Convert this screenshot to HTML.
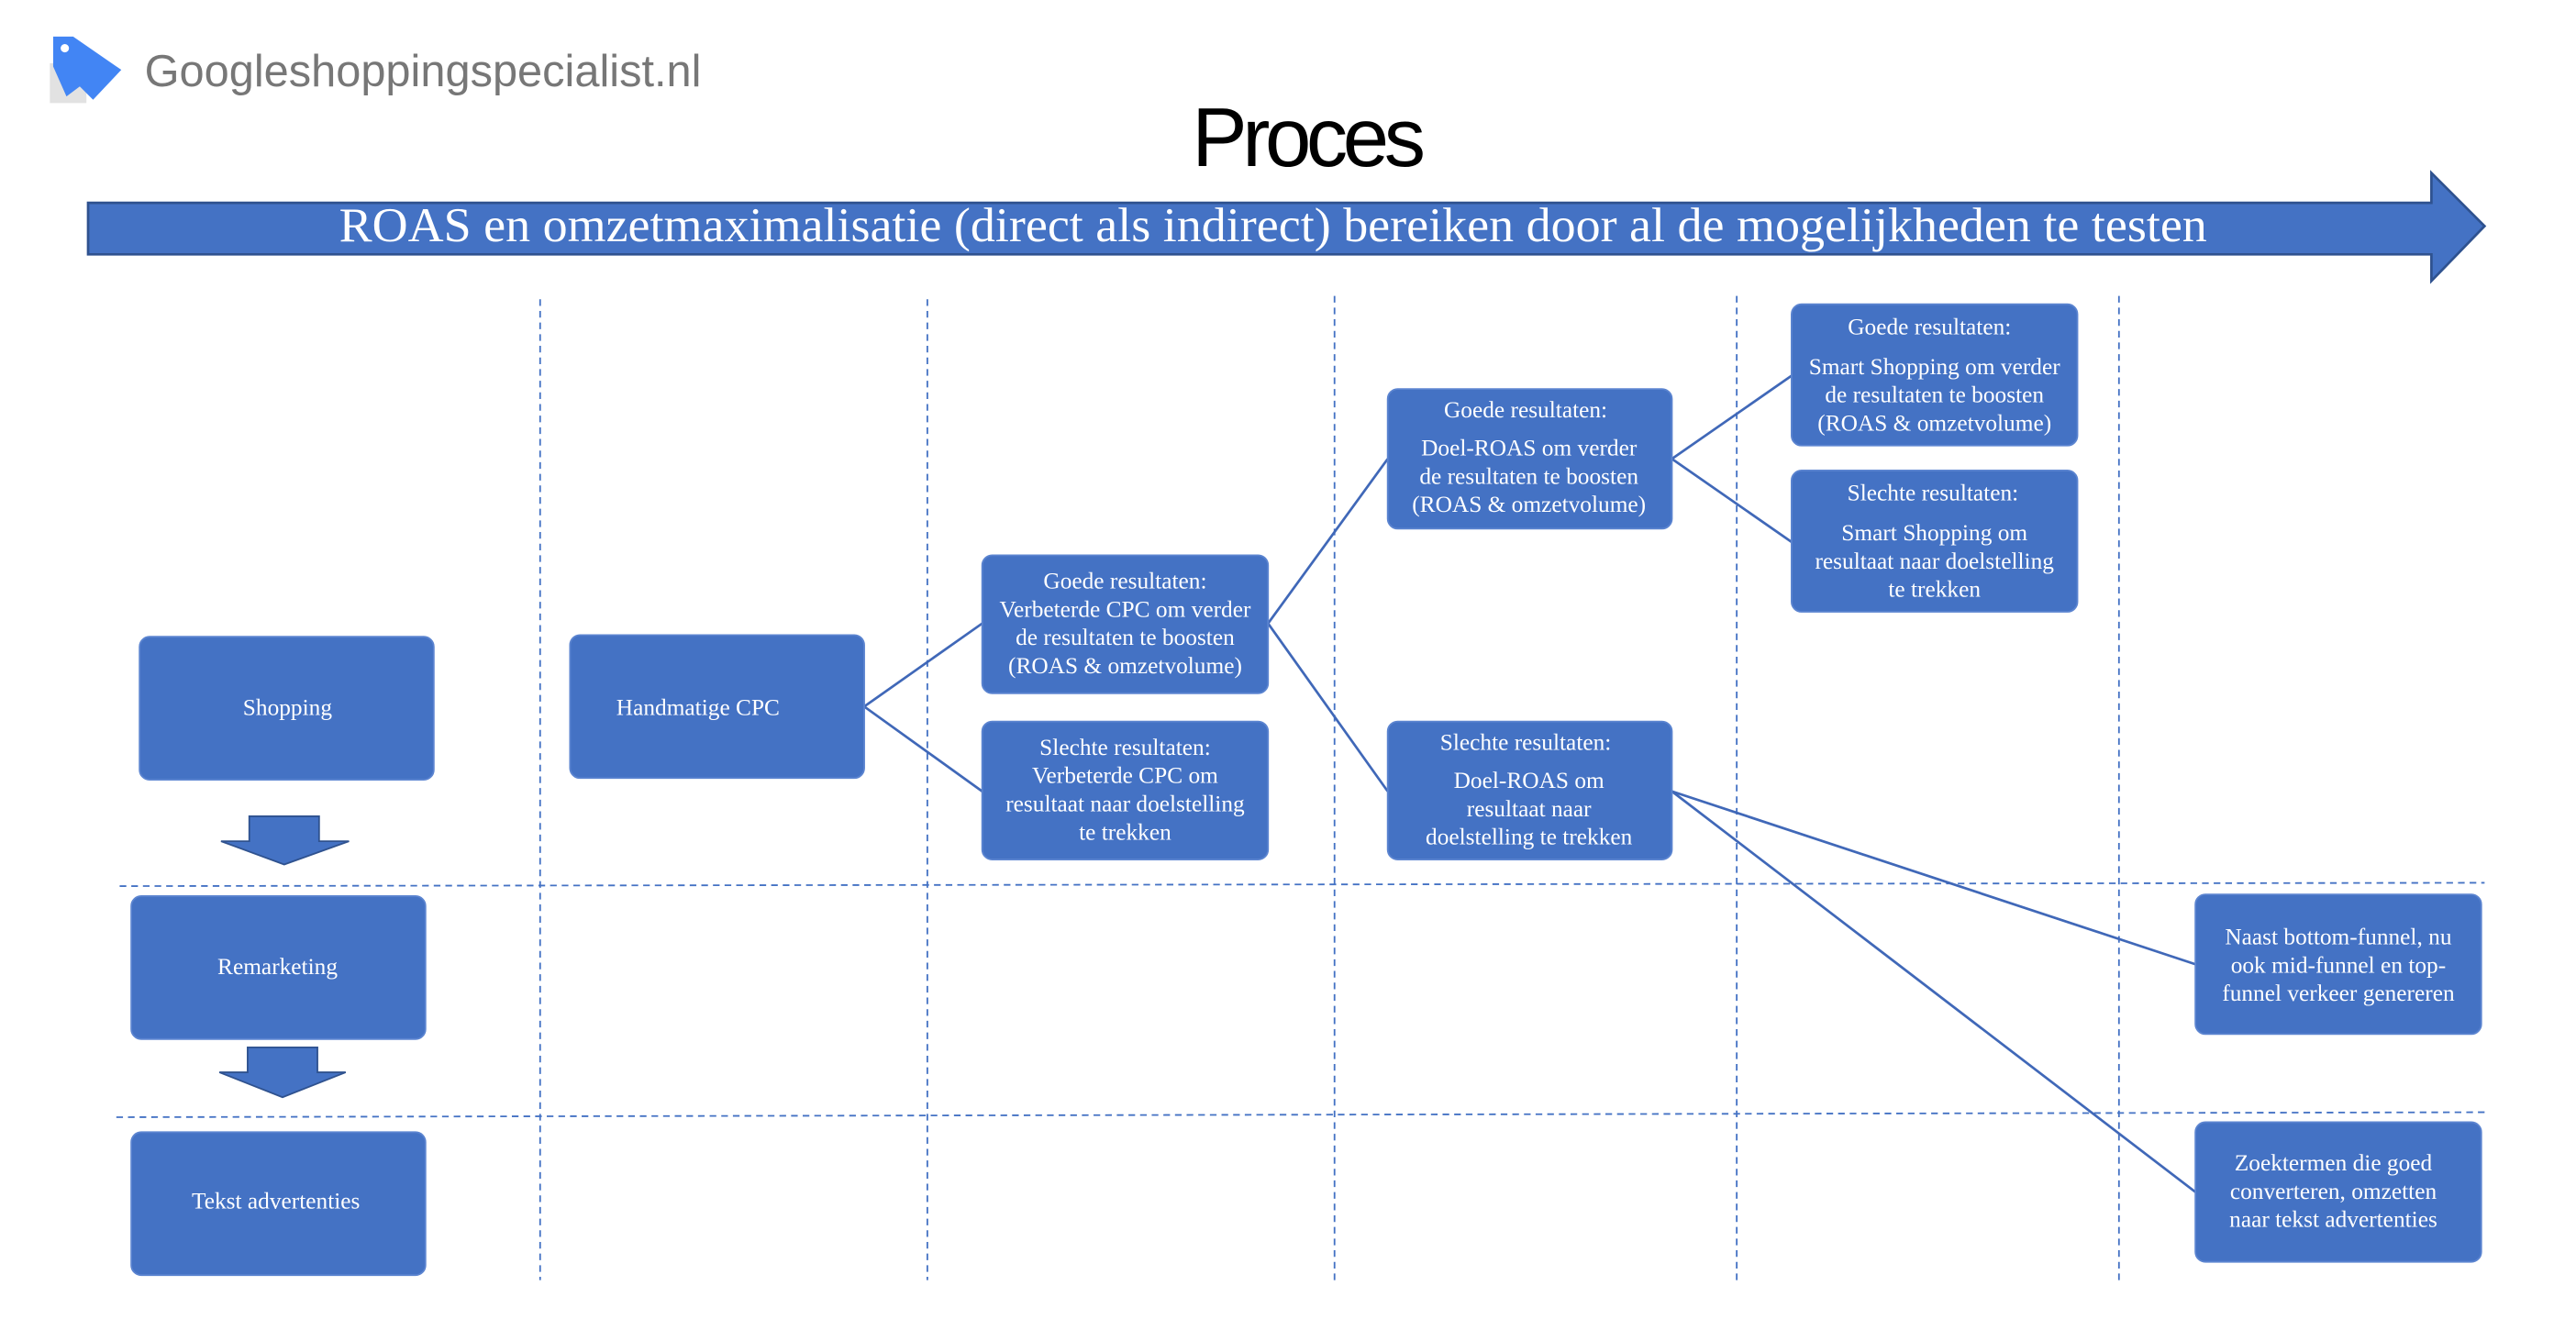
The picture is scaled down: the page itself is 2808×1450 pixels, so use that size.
<!DOCTYPE html>
<html><head><meta charset="utf-8"><style>
html,body{margin:0;padding:0;background:#fff;}
svg{display:block;}
text{font-family:"Liberation Serif",serif;fill:#fff;}
</style></head><body>
<svg width="2808" height="1450" viewBox="0 0 1550 800" preserveAspectRatio="none" xmlns="http://www.w3.org/2000/svg">
<rect width="1550" height="800" fill="#fff"/>
<!-- logo -->
<rect x="30" y="38" width="22" height="24" fill="#e2e2e2"/>
<path d="M32 22 L44 22 L73 42 L56 60 L48 52 L40 58 L32 40 Z" fill="#4285f4"/>
<circle cx="39" cy="29" r="2.5" fill="#fff"/>
<text x="87" y="52" font-size="27" textLength="335" lengthAdjust="spacingAndGlyphs" style="font-family:'Liberation Sans',sans-serif;fill:#777">Googleshoppingspecialist.nl</text>
<text x="786" y="100" font-size="50" text-anchor="middle" letter-spacing="-3" style="font-family:'Liberation Sans',sans-serif;fill:#000">Proces</text>
<!-- big arrow -->
<path d="M53 122 L1463 122 L1463 104 L1495 136 L1463 169 L1463 153 L53 153 Z" fill="#4472c4" stroke="#2f528f" stroke-width="1.5"/>
<text x="204" y="145" font-size="29" textLength="1124" lengthAdjust="spacingAndGlyphs">ROAS en omzetmaximalisatie (direct als indirect) bereiken door al de mogelijkheden te testen</text>
<!-- dashed grid -->
<g stroke="#4472c4" stroke-width="1" stroke-dasharray="4,3">
<line x1="325" y1="180" x2="325" y2="770"/>
<line x1="558" y1="180" x2="558" y2="770"/>
<line x1="803" y1="178" x2="803" y2="770"/>
<line x1="1045" y1="178" x2="1045" y2="770"/>
<line x1="1275" y1="178" x2="1275" y2="770"/>
<line x1="72" y1="533" x2="1495" y2="531"/>
<line x1="70" y1="672" x2="1495" y2="669"/>
</g>
<!-- connectors -->
<g stroke="#4068b8" stroke-width="1.5" fill="none">
<polyline points="591,375 520,425 591,476"/>
<polyline points="835,276 763,375 835,476"/>
<polyline points="1078,226 1006,276 1078,326"/>
<line x1="1006" y1="476" x2="1321" y2="580"/>
<line x1="1006" y1="476" x2="1321" y2="717"/>
</g>
<!-- down arrows -->
<path d="M150 491 L192 491 L192 506 L210 506 L171 520 L133 506 L150 506 Z" fill="#4472c4" stroke="#2f528f"/>
<path d="M149 630 L191 630 L191 645 L208 645 L170 660 L132 645 L149 645 Z" fill="#4472c4" stroke="#2f528f"/>
<!-- boxes -->
<g fill="#4472c4" stroke="#5b84d0" stroke-width="1">
<rect x="84" y="383" width="177" height="86" rx="6"/>
<rect x="343" y="382" width="177" height="86" rx="6"/>
<rect x="591" y="334" width="172" height="83" rx="6"/>
<rect x="591" y="434" width="172" height="83" rx="6"/>
<rect x="835" y="234" width="171" height="84" rx="6"/>
<rect x="835" y="434" width="171" height="83" rx="6"/>
<rect x="1078" y="183" width="172" height="85" rx="6"/>
<rect x="1078" y="283" width="172" height="85" rx="6"/>
<rect x="1321" y="538" width="172" height="84" rx="6"/>
<rect x="1321" y="675" width="172" height="84" rx="6"/>
<rect x="79" y="539" width="177" height="86" rx="6"/>
<rect x="79" y="681" width="177" height="86" rx="6"/>
</g>
<g font-size="14" text-anchor="middle">
<text x="173" y="430">Shopping</text>
<text x="420" y="430">Handmatige CPC</text>
<text x="167" y="586">Remarketing</text>
<text x="166" y="727">Tekst advertenties</text>
<text x="677" y="354">Goede resultaten:</text>
<text x="677" y="371">Verbeterde CPC om verder</text>
<text x="677" y="388">de resultaten te boosten</text>
<text x="677" y="405">(ROAS &amp; omzetvolume)</text>
<text x="677" y="454">Slechte resultaten:</text>
<text x="677" y="471">Verbeterde CPC om</text>
<text x="677" y="488">resultaat naar doelstelling</text>
<text x="677" y="505">te trekken</text>
<text x="918" y="251">Goede resultaten:</text>
<text x="920" y="274">Doel-ROAS om verder</text>
<text x="920" y="291">de  resultaten te boosten</text>
<text x="920" y="308">(ROAS &amp; omzetvolume)</text>
<text x="918" y="451">Slechte resultaten:</text>
<text x="920" y="474">Doel-ROAS om</text>
<text x="920" y="491">resultaat  naar</text>
<text x="920" y="508">doelstelling te  trekken</text>
<text x="1161" y="201">Goede resultaten:</text>
<text x="1164" y="225">Smart Shopping om verder</text>
<text x="1164" y="242">de resultaten te boosten</text>
<text x="1164" y="259">(ROAS &amp; omzetvolume)</text>
<text x="1163" y="301">Slechte resultaten:</text>
<text x="1164" y="325">Smart Shopping om</text>
<text x="1164" y="342">resultaat naar doelstelling</text>
<text x="1164" y="359">te trekken</text>
<text x="1407" y="568">Naast bottom-funnel, nu</text>
<text x="1407" y="585">ook mid-funnel en top-</text>
<text x="1407" y="602">funnel verkeer genereren</text>
<text x="1404" y="704">Zoektermen die goed</text>
<text x="1404" y="721">converteren, omzetten</text>
<text x="1404" y="738">naar tekst advertenties</text>
</g>
</svg>
</body></html>
